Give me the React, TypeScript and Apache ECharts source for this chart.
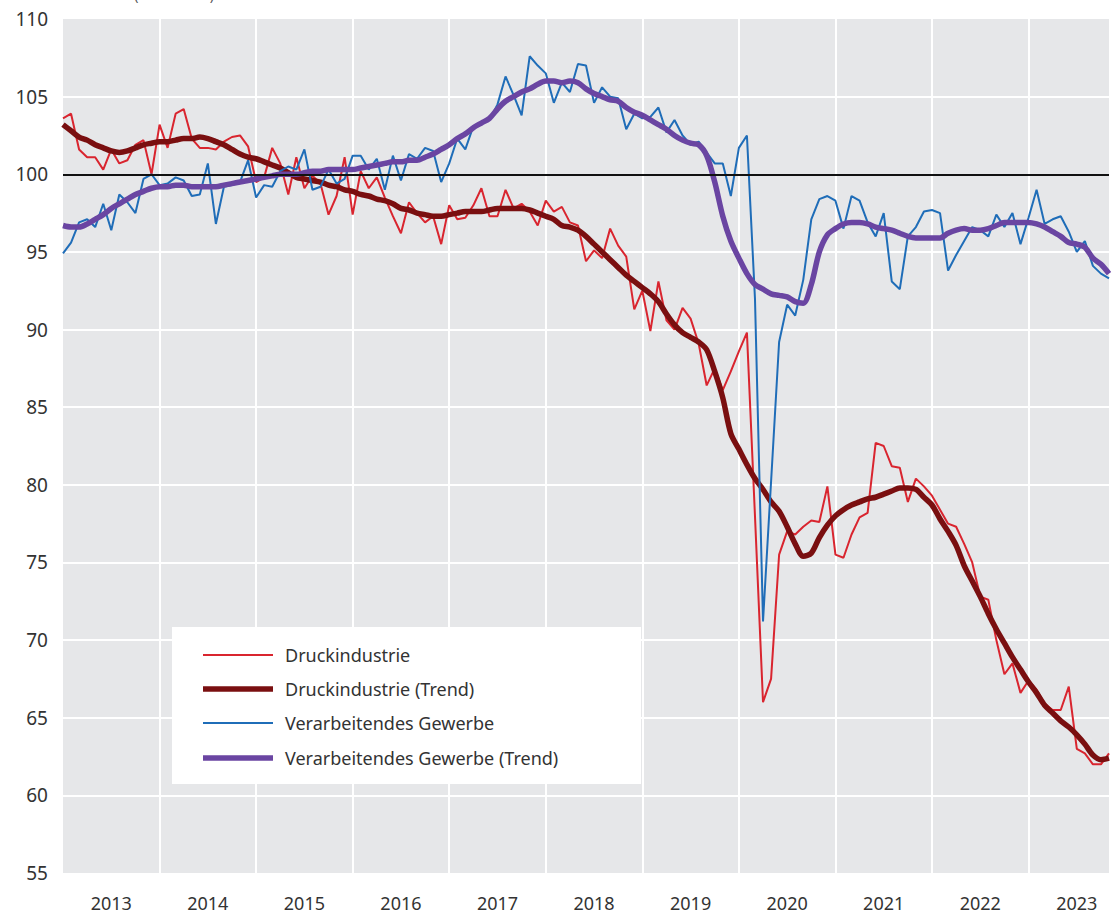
import React, { useEffect, useRef } from "react";
import * as echarts from "echarts";

const startYear = 2013;
const yearLabels = ["2013", "2014", "2015", "2016", "2017", "2018", "2019", "2020", "2021", "2022", "2023"];

// Monthly values from Jan 2013 (index 0)
const druck = [
  103.6, 103.9, 101.6, 101.1, 101.1, 100.3, 101.6, 100.7, 100.9, 101.9, 102.2, 100.0,
  103.2, 101.7, 103.9, 104.2, 102.3, 101.7, 101.7, 101.6, 102.1, 102.4, 102.5, 101.8,
  99.5, 99.8, 101.7, 100.7, 98.7, 101.1, 99.1, 99.9, 99.4, 97.4, 98.6, 101.1,
  97.4, 100.2, 99.1, 99.8, 98.5, 97.3, 96.2, 98.2, 97.5, 96.9, 97.3, 95.5,
  98.0, 97.1, 97.2, 98.0, 99.1, 97.3, 97.3, 99.0, 97.8, 98.1, 97.6, 96.7,
  98.3, 97.6, 97.9, 96.9, 96.7, 94.4, 95.1, 94.6, 96.5, 95.4, 94.7, 91.3,
  92.5, 89.9, 93.1, 90.6, 90.0, 91.4, 90.7, 89.1, 86.4, 87.5, 86.1, 87.3,
  88.6, 89.8, 78.0, 66.0, 67.5, 75.5, 77.0, 76.8, 77.3, 77.7, 77.6, 79.9,
  75.5, 75.3, 76.8, 77.9, 78.2, 82.7, 82.5, 81.2, 81.1, 78.9, 80.4, 79.9,
  79.3, 78.4, 77.5, 77.3, 76.2, 75.0, 72.8, 72.6, 70.0, 67.8, 68.5, 66.6,
  67.4, 66.8, 65.9, 65.5, 65.5, 67.0, 63.0, 62.7, 62.0, 62.0, 62.7,
];

const druckTrend = [
  103.2, 102.8, 102.4, 102.2, 101.9, 101.7, 101.5, 101.4, 101.5, 101.7, 101.9, 102.0,
  102.1, 102.1, 102.2, 102.3, 102.3, 102.4, 102.3, 102.1, 101.9, 101.6, 101.3, 101.1,
  101.0, 100.8, 100.6, 100.4, 100.1, 99.8, 99.7, 99.6, 99.5, 99.3, 99.2, 99.0,
  98.9, 98.7, 98.6, 98.4, 98.3, 98.1, 97.8, 97.7, 97.5, 97.4, 97.3, 97.3,
  97.4, 97.5, 97.6, 97.6, 97.6, 97.7, 97.8, 97.8, 97.8, 97.8, 97.7, 97.5,
  97.3, 97.1, 96.7, 96.6, 96.4, 96.0, 95.5, 95.0, 94.5, 94.0, 93.5, 93.1,
  92.7, 92.3, 91.8, 91.0, 90.3, 89.8, 89.5, 89.2, 88.7, 87.3, 85.6, 83.3,
  82.3, 81.3, 80.4, 79.7, 78.9, 78.3, 77.3, 76.2, 75.4, 75.6, 76.6, 77.4,
  78.0, 78.4, 78.7, 78.9, 79.1, 79.2, 79.4, 79.6, 79.8, 79.8, 79.7, 79.2,
  78.7, 77.8, 77.0, 76.1, 74.8, 73.8, 72.8, 71.7, 70.7, 69.8, 68.9, 68.1,
  67.3, 66.6, 65.8, 65.3, 64.8, 64.4, 63.9, 63.3, 62.6, 62.3, 62.4,
];

const gewerbe = [
  94.9, 95.6, 96.9, 97.1, 96.6, 98.1, 96.4, 98.7, 98.2, 97.5, 99.7, 100.0,
  99.3, 99.4, 99.8, 99.6, 98.6, 98.7, 100.7, 96.8, 99.2, 99.3, 99.5, 100.9,
  98.5, 99.3, 99.2, 100.2, 100.5, 100.3, 101.6, 99.0, 99.2, 100.3, 99.4, 99.7,
  101.2, 101.2, 100.3, 101.0, 99.0, 101.2, 99.6, 101.3, 101.0, 101.7, 101.5, 99.5,
  100.7, 102.3, 101.6, 103.1, 103.3, 103.5, 104.5, 106.3, 105.1, 103.8, 107.6, 107.0,
  106.5, 104.6, 105.9, 105.3, 107.1, 107.0, 104.6, 105.6, 105.0, 104.9, 102.9, 103.9,
  103.6, 103.7, 104.3, 102.7, 103.5, 102.5, 101.9, 102.1, 101.4, 100.7, 100.7, 98.6,
  101.7, 102.5, 92.0, 71.2, 80.2, 89.2, 91.6, 90.9, 93.2, 97.1, 98.4, 98.6,
  98.3, 96.5, 98.6, 98.3, 96.9, 96.0, 97.5, 93.1, 92.6, 96.0, 96.6, 97.6,
  97.7, 97.5, 93.8, 94.8, 95.7, 96.6, 96.4, 96.0, 97.4, 96.6, 97.5, 95.5,
  97.2, 99.0, 96.8, 97.1, 97.3, 96.3, 95.0, 95.7, 94.1, 93.6, 93.3,
];

const gewerbeTrend = [
  96.7, 96.6, 96.6, 96.8, 97.1, 97.4, 97.8, 98.1, 98.4, 98.7, 98.9, 99.1,
  99.2, 99.2, 99.3, 99.3, 99.2, 99.2, 99.2, 99.2, 99.3, 99.4, 99.5, 99.6,
  99.7, 99.8, 99.9, 100.0, 100.0, 100.0, 100.1, 100.2, 100.2, 100.3, 100.3, 100.3,
  100.3, 100.4, 100.5, 100.6, 100.7, 100.8, 100.8, 100.9, 100.9, 101.1, 101.3, 101.6,
  101.9, 102.3, 102.6, 103.0, 103.3, 103.6, 104.2, 104.7, 105.0, 105.3, 105.5, 105.8,
  106.0, 106.0, 105.9, 106.0, 105.9, 105.5, 105.2, 105.0, 104.8, 104.7, 104.3, 104.0,
  103.8, 103.5, 103.2, 102.9, 102.5, 102.2, 102.0, 101.9, 101.2, 99.5, 97.3, 95.7,
  94.6, 93.6, 92.9, 92.6, 92.3, 92.2, 92.1, 91.8, 91.7, 92.9, 95.0, 96.1,
  96.5, 96.8, 96.9, 96.9, 96.8, 96.6, 96.5, 96.4, 96.2, 96.0, 95.9, 95.9,
  95.9, 95.9, 96.2, 96.4, 96.5, 96.4, 96.4, 96.5, 96.7, 96.9, 96.9, 96.9,
  96.9, 96.8, 96.6, 96.3, 96.0, 95.6, 95.5, 95.3, 94.6, 94.2, 93.6,
];

const seriesNames = [
  "Druckindustrie",
  "Druckindustrie (Trend)",
  "Verarbeitendes Gewerbe",
  "Verarbeitendes Gewerbe (Trend)",
];
const titleText = "Produktionsindex (2015 = 100)";

const COLORS = ["#d9252f", "#7a0f10", "#1f6db8", "#6a45a2"];
const WIDTHS = [2, 5.5, 2, 5.5];

const FONT = "'Noto Sans', 'DejaVu Sans', sans-serif";

const toPairs = (arr: number[]) => arr.map((v, i) => [i, v]);

export default function App() {
  const ref = useRef<HTMLDivElement>(null);

  useEffect(() => {
    if (!ref.current) return;
    const chart = echarts.init(ref.current, undefined, { renderer: "svg" });
    const lastIndex = druck.length - 1;

    const legendRowY = [655, 689, 723, 758];
    const legendGraphics: any[] = [];
    seriesNames.forEach((name, k) => {
      legendGraphics.push({
        type: "line",
        z: 4,
        shape: { x1: 203, y1: legendRowY[k], x2: 273, y2: legendRowY[k] },
        style: { stroke: COLORS[k], lineWidth: WIDTHS[k] },
      });
      legendGraphics.push({
        type: "text",
        z: 4,
        x: 285,
        y: legendRowY[k],
        style: {
          text: name,
          fontSize: 18,
          fontFamily: FONT,
          fill: "#333",
          verticalAlign: "middle",
          align: "left",
        },
      });
    });

    chart.setOption({
      animation: false,
      textStyle: { fontFamily: FONT },
      grid: {
        left: 63,
        right: 0,
        top: 19,
        bottom: 42,
        show: true,
        backgroundColor: "#e6e7e9",
        borderWidth: 0,
      },
      graphic: [
        {
          type: "rect",
          z: 3,
          shape: { x: 172, y: 627, width: 469, height: 157 },
          style: { fill: "#ffffff" },
        },
        ...legendGraphics,
        {
          type: "text",
          x: 15,
          y: -13,
          style: {
            text: titleText,
            fontSize: 14,
            fontFamily: FONT,
            fill: "#555",
          },
        },
      ],
      xAxis: [
        {
          type: "value",
          min: 0,
          max: lastIndex,
          interval: 12,
          axisLine: { show: false },
          axisTick: { show: false },
          axisLabel: { show: false },
          splitLine: {
            show: true,
            showMinLine: false,
            showMaxLine: false,
            lineStyle: { color: "#ffffff", width: 2 },
          },
        },
        {
          type: "value",
          min: 0,
          max: lastIndex,
          interval: 6,
          position: "bottom",
          axisLine: { show: false },
          axisTick: { show: false },
          splitLine: { show: false },
          axisLabel: {
            fontSize: 18,
            color: "#333",
            fontFamily: FONT,
            margin: 21,
            formatter: (v: number) => {
              if (v % 12 !== 6) return "";
              const idx = (v - 6) / 12;
              return yearLabels[idx] ?? String(startYear + idx);
            },
          },
        },
      ],
      yAxis: {
        type: "value",
        min: 55,
        max: 110,
        interval: 5,
        axisLine: { show: false },
        axisTick: { show: false },
        axisLabel: { fontSize: 19, color: "#333", fontFamily: FONT, margin: 15 },
        splitLine: {
          show: true,
          showMinLine: false,
          showMaxLine: false,
          lineStyle: { color: "#ffffff", width: 2 },
        },
      },
      series: [
        {
          name: "ref100",
          type: "line",
          data: [],
          xAxisIndex: 0,
          z: 1,
          markLine: {
            silent: true,
            symbol: "none",
            label: { show: false },
            lineStyle: { color: "#111111", width: 2, type: "solid" },
            data: [{ yAxis: 100 }],
          },
        },
        ...[druck, druckTrend, gewerbe, gewerbeTrend].map((arr, k) => ({
          name: seriesNames[k],
          type: "line",
          xAxisIndex: 0,
          data: toPairs(arr),
          symbol: "none",
          smooth: k % 2 === 1 ? 0.3 : false,
          lineStyle: { color: COLORS[k], width: WIDTHS[k] },
          itemStyle: { color: COLORS[k] },
          z: 2,
        })),
      ],
    });

    return () => chart.dispose();
  }, []);

  return (
    <div
      ref={ref}
      style={{ position: "absolute", left: 0, top: 0, width: 1112, height: 915 }}
    />
  );
}
